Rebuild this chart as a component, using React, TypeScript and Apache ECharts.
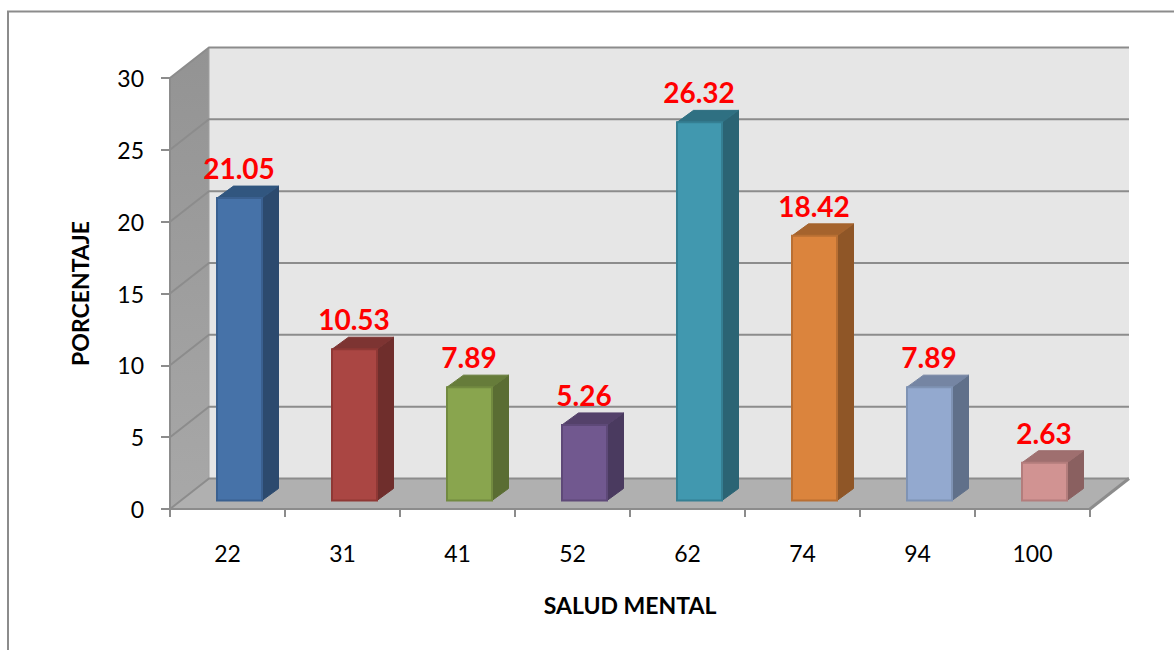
import React, { useEffect, useRef } from "react";
import * as echarts from "echarts";

const categories = ["22", "31", "41", "52", "62", "74", "94", "100"];
const percentages = [21.05, 10.53, 7.89, 5.26, 26.32, 18.42, 7.89, 2.63];
const yTicks = [0, 5, 10, 15, 20, 25, 30];
const frontColors = ["#4672a8", "#aa4643", "#89a54e", "#71588f", "#4198af", "#db843d", "#93a9cf", "#d19392"];
const edgeColors = ["#3a6090", "#8f3835", "#728a40", "#5e4978", "#357f93", "#b96f33", "#7f93b4", "#b37d7c"];
const topColors = ["#31567f", "#7d3432", "#667c3a", "#54416a", "#2f7082", "#a5632d", "#7585a3", "#9f6f6f"];
const sideColors = ["#2c4a6e", "#6f2e2c", "#5a6d33", "#4a3a5f", "#2b6474", "#8f5627", "#60708a", "#8a6060"];

const FONT = "Lato";
const LINE = "#8c8c8c";
// Oblique projection of the chart box: how far the back plane sits from the front plane.
const BOX_DX = 39;
const BOX_DY = 30.5;
// Bars stand part way into the box.
const BAR_FRONT_DY = 8.5;
const BAR_DX = 16.5;
const BAR_DY = 12;
const BAR_WIDTH = 45;
const BAR_SHIFT = 12;

function renderBox(params: any, api: any) {
  const sys = params.coordSys;
  const left = sys.x;
  const right = sys.x + sys.width;
  const y0 = api.coord([0, 0])[1];
  const yTop = api.coord([0, yTicks[yTicks.length - 1]])[1];
  const children: any[] = [
    {
      type: "polygon",
      shape: { points: [[left, yTop], [left + BOX_DX, yTop - BOX_DY], [left + BOX_DX, y0 - BOX_DY], [left, y0]] },
      style: {
        fill: new echarts.graphic.LinearGradient(0, 0, 0, 1, [
          { offset: 0, color: "#939393" },
          { offset: 1, color: "#a8a8a8" },
        ]),
      },
    },
    {
      type: "rect",
      shape: { x: left + BOX_DX, y: yTop - BOX_DY, width: right - left, height: y0 - yTop },
      style: { fill: "#e6e6e6" },
    },
    {
      type: "polygon",
      shape: { points: [[left, y0], [left + BOX_DX, y0 - BOX_DY], [right + BOX_DX, y0 - BOX_DY], [right, y0]] },
      style: { fill: "#b0b0b0" },
    },
    {
      type: "line",
      shape: { x1: left + BOX_DX, y1: yTop - BOX_DY, x2: left + BOX_DX, y2: y0 - BOX_DY },
      style: { stroke: "#a0a0a0", lineWidth: 1 },
    },
  ];
  yTicks.forEach((t) => {
    const y = api.coord([0, t])[1];
    children.push({
      type: "polyline",
      shape: { points: [[left, y], [left + BOX_DX, y - BOX_DY], [right + BOX_DX, y - BOX_DY]] },
      style: { stroke: LINE, lineWidth: 2, fill: "none" },
    });
  });
  children.push({
    type: "line",
    shape: { x1: right, y1: y0, x2: right + BOX_DX, y2: y0 - BOX_DY },
    style: { stroke: LINE, lineWidth: 3 },
  });
  return { type: "group", children };
}

function renderBar(params: any, api: any) {
  const i = params.dataIndex;
  const value = api.value(1);
  const [cx, yTopRaw] = api.coord([api.value(0), value]);
  const yBaseRaw = api.coord([api.value(0), 0])[1];
  const x1 = cx + BAR_SHIFT - BAR_WIDTH / 2;
  const x2 = x1 + BAR_WIDTH;
  const top = yTopRaw - BAR_FRONT_DY;
  const base = yBaseRaw - BAR_FRONT_DY;
  return {
    type: "group",
    children: [
      {
        type: "polygon",
        shape: { points: [[x2, top], [x2 + BAR_DX, top - BAR_DY], [x2 + BAR_DX, base - BAR_DY], [x2, base]] },
        style: { fill: sideColors[i], stroke: sideColors[i], lineWidth: 1 },
      },
      {
        type: "polygon",
        shape: { points: [[x1, top], [x1 + BAR_DX, top - BAR_DY], [x2 + BAR_DX, top - BAR_DY], [x2, top]] },
        style: { fill: topColors[i], stroke: topColors[i], lineWidth: 1 },
      },
      {
        type: "rect",
        shape: { x: x1, y: top, width: BAR_WIDTH, height: base - top },
        style: { fill: frontColors[i], stroke: edgeColors[i], lineWidth: 2 },
      },
      {
        type: "text",
        x: (x1 + x2) / 2 - 0.5,
        y: top - 30,
        style: {
          text: value.toFixed(2),
          fill: "#ff0000",
          font: `bold 28px ${FONT}`,
          align: "center",
          verticalAlign: "middle",
        },
      },
    ],
  };
}

export default function App() {
  const ref = useRef<HTMLDivElement>(null);

  useEffect(() => {
    const chart = echarts.init(ref.current!, null, { renderer: "svg" });
    chart.setOption({
      animation: false,
      backgroundColor: "#ffffff",
      grid: { left: 170, right: 84, top: 78, bottom: 141, containLabel: false },
      graphic: [
        {
          type: "polyline",
          shape: { points: [[8, 650], [8, 11.5], [1174, 11.5]] },
          style: { stroke: LINE, lineWidth: 2, fill: "none" },
        },
      ],
      xAxis: {
        type: "category",
        data: categories,
        z: 4,
        name: "SALUD MENTAL",
        nameLocation: "middle",
        nameGap: 84,
        nameTextStyle: { fontFamily: FONT, fontSize: 23, fontWeight: "bold", color: "#000000" },
        axisLine: { lineStyle: { color: LINE, width: 2 } },
        axisTick: { show: true, alignWithLabel: false, length: 8, lineStyle: { color: LINE, width: 2 } },
        axisLabel: { fontFamily: FONT, fontSize: 23, color: "#000000", margin: 32 },
        splitLine: { show: false },
      },
      yAxis: {
        type: "value",
        min: 0,
        max: 30,
        interval: 5,
        z: 4,
        name: "PORCENTAJE",
        nameLocation: "middle",
        nameGap: 79,
        nameTextStyle: { fontFamily: FONT, fontSize: 23, fontWeight: "bold", color: "#000000" },
        axisLine: { show: true, lineStyle: { color: LINE, width: 2 } },
        axisTick: { show: true, length: 9, lineStyle: { color: LINE, width: 2 } },
        axisLabel: { fontFamily: FONT, fontSize: 23, color: "#000000", margin: 26 },
        splitLine: { show: false },
      },
      series: [
        {
          type: "custom",
          name: "box",
          silent: true,
          z: 1,
          renderItem: renderBox,
          data: [[0, 0]],
          encode: { x: 0, y: 1 },
        },
        {
          type: "custom",
          name: "Porcentaje",
          silent: true,
          z: 5,
          renderItem: renderBar,
          data: percentages.map((v, i) => [i, v]),
          encode: { x: 0, y: 1 },
        },
      ],
    });
    return () => chart.dispose();
  }, []);

  return <div ref={ref} style={{ position: "fixed", left: 0, top: 0, width: 1174, height: 650 }} />;
}
